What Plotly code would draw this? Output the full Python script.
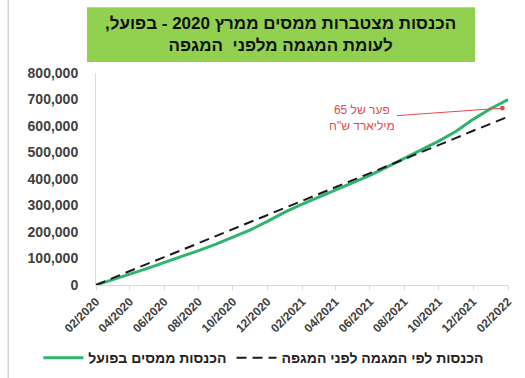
import plotly.graph_objects as go

# Monthly timeline, Feb 2020 - Feb 2022
months = [
    "2020-02-01", "2020-03-01", "2020-04-01", "2020-05-01", "2020-06-01",
    "2020-07-01", "2020-08-01", "2020-09-01", "2020-10-01", "2020-11-01",
    "2020-12-01", "2021-01-01", "2021-02-01", "2021-03-01", "2021-04-01",
    "2021-05-01", "2021-06-01", "2021-07-01", "2021-08-01", "2021-09-01",
    "2021-10-01", "2021-11-01", "2021-12-01", "2022-01-01", "2022-02-01",
]

# Cumulative tax revenue (NIS millions)
actual = [
    0, 21000, 41000, 62000, 84000, 107000, 130000, 154000, 180000, 208000,
    240000, 275000, 305000, 330000, 358000, 385000, 414000, 445000, 478000,
    510000, 543000, 580000, 625000, 665000, 700000,
]
pre_pandemic_trend = [
    0, 26000, 52000, 79000, 105000, 131000, 158000, 184000, 210000, 237000,
    263000, 290000, 316000, 342000, 369000, 395000, 422000, 448000, 475000,
    501000, 528000, 555000, 582000, 608000, 635000,
]

name_actual = "הכנסות ממסים בפועל"
name_trend = "הכנסות לפי המגמה לפני המגפה"
# RLM keeps the trailing comma on the right-to-left side of the line
title_lines = ["הכנסות מצטברות ממסים ממרץ 2020 - בפועל,\u200f", "לעומת המגמה מלפני  המגפה"]
gap_label = "פער של 65<br>מיליארד ש\"ח"
gap_x = "2022-01-22"
gap_y = (actual[-1] + pre_pandemic_trend[-1]) / 2

FONT = "Liberation Sans, Arial, sans-serif"

fig = go.Figure()
fig.add_trace(go.Scatter(
    x=months, y=actual, name=name_actual, mode="lines",
    line=dict(color="#2fb36f", width=3),
))
fig.add_trace(go.Scatter(
    x=months, y=pre_pandemic_trend, name=name_trend, mode="lines",
    line=dict(color="#1a1a1a", width=2, dash="10px,6px"),
))

# Title banner
fig.add_shape(type="rect", xref="paper", yref="paper",
              x0=-0.022, x1=0.92, y0=1.052, y1=1.31,
              fillcolor="#92d050", line=dict(width=0), layer="below")
fig.add_annotation(xref="paper", yref="paper", x=0.449, y=1.183,
                   text="<b>" + title_lines[0] + "</b><br><b>" + title_lines[1] + "</b>",
                   showarrow=False, font=dict(family=FONT, size=17, color="#111111"),
                   align="center", yanchor="middle")

# Outer frame
fig.add_shape(type="line", xref="paper", yref="paper",
              x0=-0.213, x1=-0.213, y0=-0.44, y1=1.35,
              line=dict(color="#d0d0d0", width=1.5))

# Gap callout
fig.add_annotation(x=gap_x, y=gap_y, text=gap_label,
                   showarrow=True, arrowhead=6, arrowsize=1.2, arrowwidth=1,
                   arrowcolor="#e8474a", ax=-140, ay=10,
                   font=dict(family=FONT, size=12, color="#e8474a"),
                   align="center")

fig.update_layout(
    width=525, height=378,
    margin=dict(l=96, r=17, t=73, b=93, autoexpand=False),
    paper_bgcolor="white", plot_bgcolor="white",
    font=dict(family=FONT, color="#404040"),
    showlegend=True,
    legend=dict(orientation="h", x=-0.14, xanchor="left", y=-0.345, yanchor="middle",
                bgcolor="rgba(0,0,0,0)",
                font=dict(family=FONT, size=14, color="#222222", weight="bold"),
                itemwidth=40, tracegroupgap=0),
)
fig.update_xaxes(
    type="date", range=["2020-02-01", "2022-02-01"],
    tickvals=months[::2], tickformat="%m/%Y", tickangle=-45,
    tickfont=dict(family=FONT, size=12, color="#404040", weight="bold"),
    showgrid=False, showline=True, linecolor="#d9d9d9", linewidth=1,
    ticks="outside", ticklen=4, tickcolor="#d9d9d9", zeroline=False,
    automargin=False,
)
fig.update_yaxes(
    range=[0, 800000], dtick=100000, tickformat=",",
    tickfont=dict(family=FONT, size=14, color="#404040", weight="bold"),
    showgrid=False, showline=True, linecolor="#d9d9d9", linewidth=1,
    ticks="", ticklabelstandoff=14, zeroline=False, automargin=False,
)

fig.write_html("out.html")
